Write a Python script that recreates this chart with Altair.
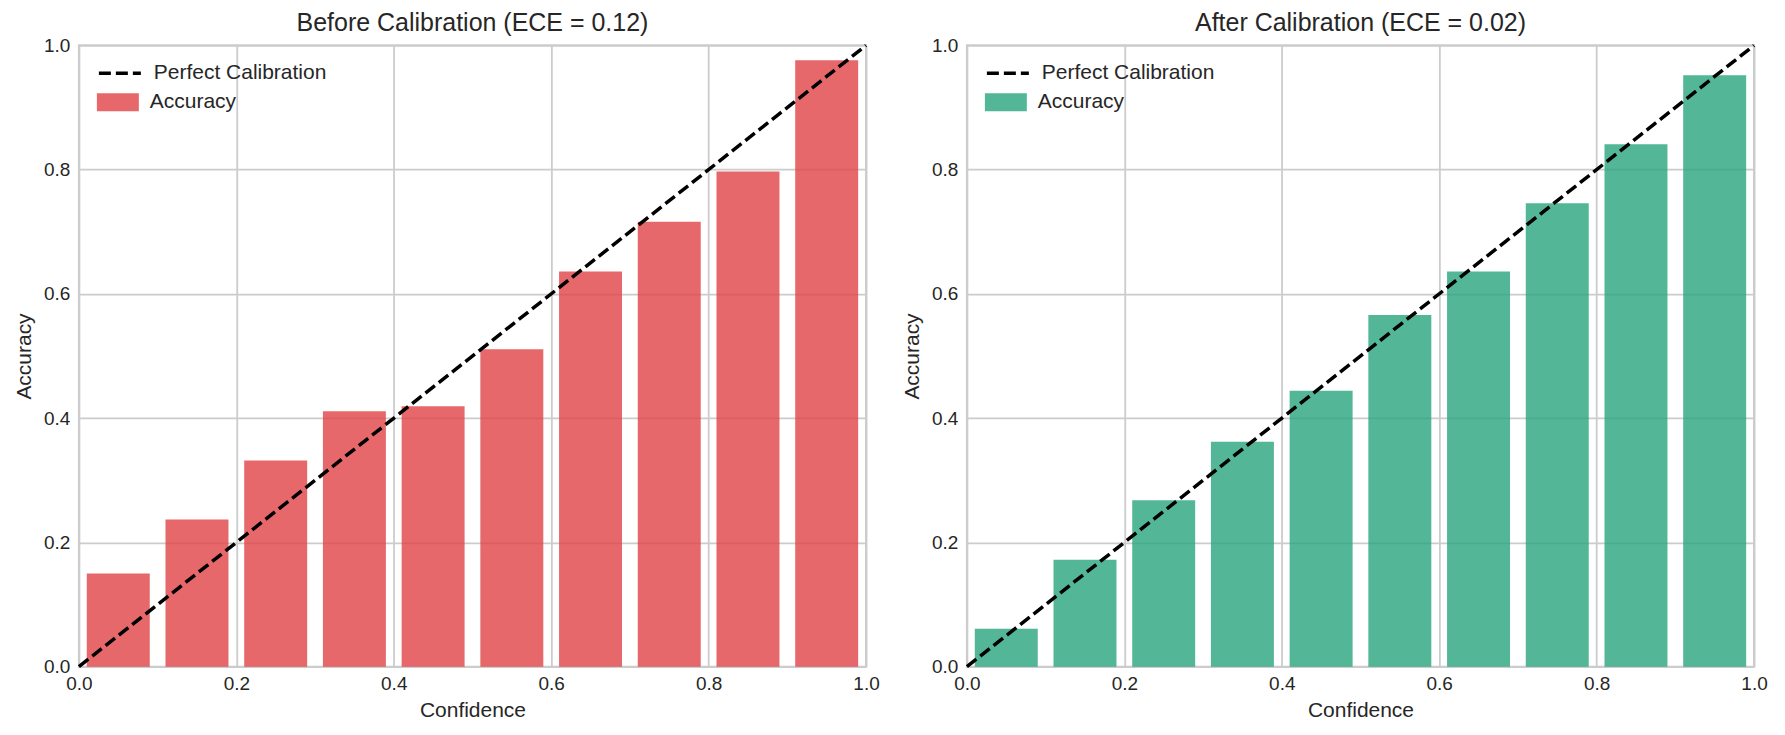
import altair as alt
import pandas as pd

# ---- data ----
bin_centers = [0.05, 0.15, 0.25, 0.35, 0.45, 0.55, 0.65, 0.75, 0.85, 0.95]
acc_before = [0.150, 0.237, 0.332, 0.411, 0.419, 0.511, 0.636, 0.716, 0.797, 0.976]
acc_after = [0.061, 0.172, 0.268, 0.362, 0.444, 0.566, 0.636, 0.746, 0.841, 0.952]
diag_points = [0.0, 1.0]
tick_values = [0.0, 0.2, 0.4, 0.6, 0.8, 1.0]
titles = ["Before Calibration (ECE = 0.12)", "After Calibration (ECE = 0.02)"]
bar_colors = ["#E04245", "#27A47D"]

BAR_WIDTH = 0.08
FONT = "Liberation Sans"
TEXT = "#262626"


def panel(acc, color, title):
    bars_df = pd.DataFrame({
        "x0": [c - BAR_WIDTH / 2 for c in bin_centers],
        "x1": [c + BAR_WIDTH / 2 for c in bin_centers],
        "acc": acc,
        "series": ["Accuracy"] * len(acc),
    })
    line_df = pd.DataFrame({
        "conf": diag_points,
        "acc": diag_points,
        "series": ["Perfect Calibration"] * len(diag_points),
    })
    xscale = alt.Scale(domain=[0, 1], nice=False, zero=False)
    yscale = alt.Scale(domain=[0, 1], nice=False, zero=False)
    xaxis = alt.Axis(values=tick_values, format=".1f", title="Confidence",
                     labelFlush=False, labelPadding=8, titlePadding=6)
    yaxis = alt.Axis(values=tick_values, format=".1f", title="Accuracy",
                     labelFlush=False, labelPadding=9, titlePadding=9)

    bars = alt.Chart(bars_df).mark_rect(opacity=0.8).encode(
        x=alt.X("x0:Q", scale=xscale, axis=xaxis),
        x2="x1:Q",
        y=alt.Y("acc:Q", scale=yscale, axis=yaxis),
        y2=alt.datum(0),
        color=alt.Color(
            "series:N",
            scale=alt.Scale(domain=["Accuracy"], range=[color]),
            legend=alt.Legend(
                orient="none", legendX=18, legendY=36, title=None,
                symbolType="M-1,-0.43H1V0.43H-1Z", symbolSize=1764,
                symbolOpacity=0.8, symbolStrokeWidth=0,
                labelFontSize=21, labelFont=FONT, labelColor=TEXT,
                labelOffset=11, labelLimit=400, padding=0,
            ),
        ),
    )
    line = alt.Chart(line_df).mark_line(color="black", strokeWidth=3.5).encode(
        x=alt.X("conf:Q", scale=xscale),
        y=alt.Y("acc:Q", scale=yscale),
        strokeDash=alt.StrokeDash(
            "series:N",
            scale=alt.Scale(domain=["Perfect Calibration"], range=[[12, 5]]),
            legend=alt.Legend(
                orient="none", legendX=18, legendY=5, title=None,
                symbolType="stroke", symbolSize=1764,
                symbolStrokeColor="black", symbolStrokeWidth=3.5,
                labelFontSize=21, labelFont=FONT, labelColor=TEXT,
                labelOffset=11, labelLimit=400, padding=0,
            ),
        ),
    )
    return alt.layer(bars, line).properties(
        width=788, height=622,
        title=alt.TitleParams(title, fontSize=25, font=FONT, color=TEXT,
                              fontWeight="normal", baseline="bottom",
                              offset=-25, anchor="middle", frame="group"),
    ).resolve_scale(color="independent", strokeDash="independent")


left = panel(acc_before, bar_colors[0], titles[0])
right = panel(acc_after, bar_colors[1], titles[1])

chart = alt.hconcat(left, right, spacing=101, bounds="flush").resolve_scale(
    color="independent", strokeDash="independent"
).properties(
    padding={"left": 12, "top": 10, "right": 16, "bottom": 14},
    background="white",
).configure_axis(
    labelFont=FONT, labelFontSize=19, labelColor=TEXT,
    titleFont=FONT, titleFontSize=21, titleColor=TEXT, titleFontWeight="normal",
    grid=True, gridColor="#cccccc", gridWidth=1.8,
    domain=False, ticks=False, tickSize=0,
).configure_view(
    stroke="#cccccc", strokeWidth=2
)

chart.save("out.html", embed_options={"renderer": "svg", "actions": False})
